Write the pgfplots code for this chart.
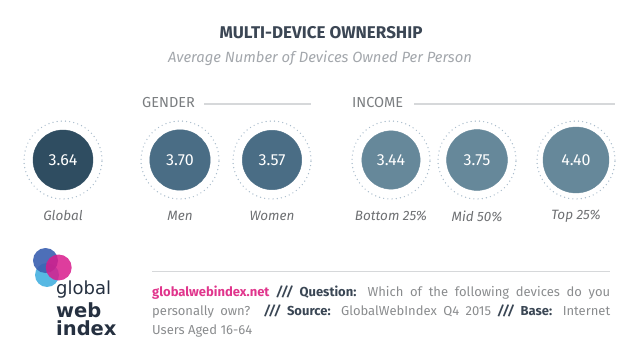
\documentclass[border=0pt]{standalone}
\usepackage{pgfplots}
\pgfplotsset{compat=1.18}
\usepackage{fontspec}
\setmainfont{Fira Sans}
\newfontfamily\logofont{DejaVu Sans}
\definecolor{cTitle}{HTML}{3B4654}
\definecolor{cSub}{HTML}{A3A7AC}
\definecolor{cHead}{HTML}{7A7D80}
\definecolor{cRule}{HTML}{D6D8DA}
\definecolor{cLab}{HTML}{6E7073}
\definecolor{cGlobal}{HTML}{2F4D61}
\definecolor{cGender}{HTML}{4A6D85}
\definecolor{cIncome}{HTML}{66889A}
\definecolor{cRing}{HTML}{A9BCCB}
\definecolor{cPink}{HTML}{E0358C}
\definecolor{cFoot}{HTML}{8A8C8E}
\definecolor{cDark}{HTML}{3A4654}
\definecolor{cLogoA}{HTML}{3A5FB0}
\definecolor{cLogoB}{HTML}{45B0E0}
\definecolor{cLogoC}{HTML}{D81B8C}
\definecolor{cLogoT}{HTML}{253040}
\tikzset{catlab/.style={font=\fontsize{13.5}{13.5}\selectfont\itshape, text=cLab}}
\pgfplotsset{
  bub/.style={scatter, only marks, mark=*,
    scatter/use mapped color={draw=#1, fill=#1},
    point meta=\thisrow{v},
    visualization depends on={15.72*sqrt(\thisrow{v}) \as \rad},
    scatter/@pre marker code/.append style={/tikz/mark size=\rad pt}},
  vlab/.style={only marks, mark=none, point meta=explicit,
    nodes near coords={\pgfmathprintnumber[fixed,fixed zerofill,precision=2,assume math mode=true]{\pgfplotspointmeta}},
    nodes near coords align=center,
    every node near coord/.append style={anchor=center, text=white, font=\fontsize{16}{16}\selectfont}},
  rng/.style={only marks, mark=o, mark size=39pt,
    mark options={draw=cRing, line width=1.4pt, dash pattern=on 0pt off 4.2pt, line cap=round}},
}
\pgfplotstableread{
x y v
63 160 3.64
}\tglobal
\pgfplotstableread{
x y v
180 160 3.70
272 160 3.57
}\tgender
\pgfplotstableread{
x y v
391 160 3.44
477 160 3.75
576 160 4.40
}\tincome
\begin{document}
\begin{tikzpicture}
\useasboundingbox (0,0) rectangle (632pt,353pt);
\begin{axis}[
  at={(0,0)}, anchor=south west,
  width=632pt, height=353pt, scale only axis,
  xmin=0, xmax=632, ymin=0, ymax=353, y dir=reverse,
  axis lines=none, ticks=none, clip=false,
  /pgf/number format/assume math mode=true,
]
\addplot[rng] table[x=x,y=y] \tglobal;
\addplot[rng] table[x=x,y=y] \tgender;
\addplot[rng] table[x=x,y=y] \tincome;
\addplot[bub=cGlobal] table[x=x,y=y] \tglobal;
\addplot[bub=cGender] table[x=x,y=y] \tgender;
\addplot[bub=cIncome] table[x=x,y=y] \tincome;
\addplot[vlab] table[x=x,y=y,meta=v] \tglobal;
\addplot[vlab] table[x=x,y=y,meta=v] \tgender;
\addplot[vlab] table[x=x,y=y,meta=v] \tincome;

% titles
\node[font=\fontsize{17}{17}\selectfont\bfseries, text=cTitle] at (axis cs:321,33) {MULTI-DEVICE OWNERSHIP};
\node[font=\fontsize{14.8}{14.8}\selectfont\itshape, text=cSub] at (axis cs:320,58) {Average Number of Devices Owned Per Person};
% group headers
\node[font=\fontsize{14.5}{14.5}\selectfont, text=cHead, anchor=west, inner sep=0pt] at (axis cs:142,103) {GENDER};
\draw[cRule, line width=2pt] (axis cs:204,104) -- (axis cs:311,104);
\node[font=\fontsize{14.5}{14.5}\selectfont, text=cHead, anchor=west, inner sep=0pt] at (axis cs:352,103) {INCOME};
\draw[cRule, line width=2pt] (axis cs:414,104) -- (axis cs:615,104);
% category labels
\node[catlab] at (axis cs:63,216) {Global};
\node[catlab] at (axis cs:180,216) {Men};
\node[catlab] at (axis cs:272,216) {Women};
\node[catlab] at (axis cs:391,216) {Bottom 25\%};
\node[catlab] at (axis cs:477,216) {Mid 50\%};
\node[catlab] at (axis cs:576,216) {Top 25\%};
% logo
\fill[cLogoB, opacity=0.9] (axis cs:47,275) circle[radius=12pt];
\fill[cLogoA, opacity=0.9] (axis cs:45.5,260.5) circle[radius=12.5pt];
\fill[cLogoC, opacity=0.85] (axis cs:58.7,267.5) circle[radius=13pt];
\node[anchor=base west, inner sep=0pt, text=cLogoT, align=left,
  font=\logofont\fontsize{18}{18}\selectfont] at (axis cs:56,335)
  {global\\[3pt]{\fontsize{19.5}{18}\selectfont\bfseries web}\\[0pt]{\fontsize{19.5}{18}\selectfont\bfseries index}};
% footer
\draw[cRule, line width=0.8pt] (axis cs:152,271) -- (axis cs:610,271);
\node[anchor=north west, inner sep=0pt, text width=458pt, align=justify,
  font=\fontsize{13}{19}\selectfont, text=cFoot] at (axis cs:152,286)
  {\hyphenpenalty=10000\exhyphenpenalty=10000\textcolor{cPink}{\bfseries globalwebindex.net} \textcolor{cDark}{\bfseries\itshape ///} \textcolor{cDark}{\bfseries Question:} Which of the following devices do you\linebreak personally own? \textcolor{cDark}{\bfseries\itshape ///} \textcolor{cDark}{\bfseries Source:} GlobalWebIndex Q4 2015 \textcolor{cDark}{\bfseries\itshape ///} \textcolor{cDark}{\bfseries Base:} Internet\linebreak Users Aged 16-64};
\end{axis}
\end{tikzpicture}
\end{document}
